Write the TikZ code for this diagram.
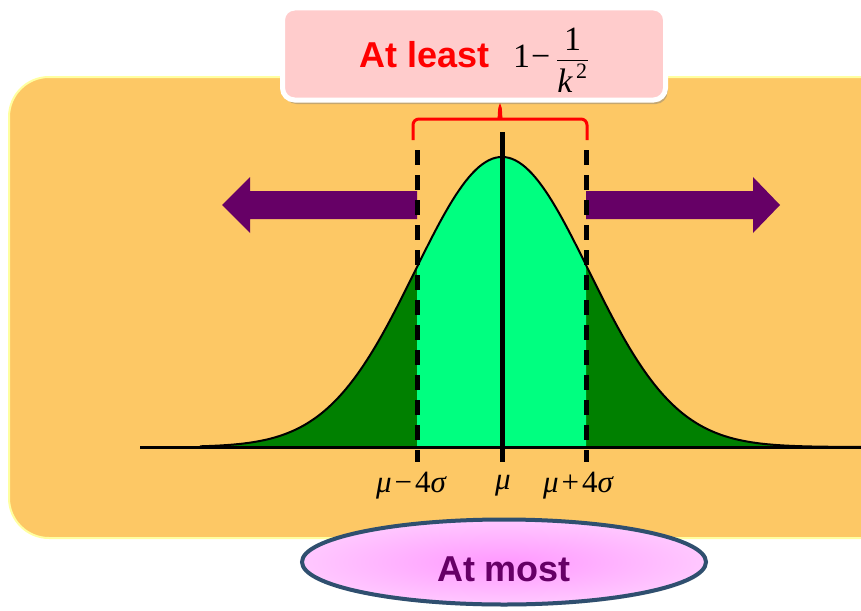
\documentclass[tikz,border=0pt]{standalone}
\usepackage{amsmath}
\usepackage{fontspec}
\setsansfont{Liberation Sans}
\newfontfamily\tmsfont{Liberation Serif}
\usetikzlibrary{shapes.geometric,shadows,positioning}
\definecolor{panelfill}{RGB}{253,200,101}
\definecolor{panelrim}{RGB}{255,255,160}
\definecolor{tailgreen}{RGB}{0,128,0}
\definecolor{coregreen}{RGB}{0,255,128}
\definecolor{plum}{RGB}{102,0,102}
\definecolor{notefill}{RGB}{255,204,204}
\definecolor{ovalrim}{RGB}{47,79,111}
\definecolor{ovalin}{RGB}{255,153,255}
\definecolor{ovalout}{RGB}{255,200,255}

\begin{document}
\begin{tikzpicture}[x=1pt, y=-1pt,
  declare function={bell(\t)=447-290*exp(-((\t-502)/87)^2/2);},
  notebox/.style={draw=white, line width=5pt, fill=notefill, rounded corners=12pt,
                  minimum width=383pt, minimum height=92pt, inner sep=0pt,
                  text height=43pt, text depth=17pt,
                  drop shadow={shadow xshift=2pt, shadow yshift=-4pt, opacity=0.45}},
  oval/.style={ellipse, draw=ovalrim, line width=4pt, inner color=ovalin, outer color=ovalout,
               minimum width=404pt, minimum height=85pt, inner sep=0pt,
               text height=46pt, text depth=8pt,
               drop shadow={shadow xshift=1pt, shadow yshift=-2pt, opacity=0.3}},
  heavy/.style={font=\fontsize{36}{40}\selectfont\sffamily\bfseries},
  lbl/.style={font=\fontsize{31}{34}\selectfont\tmsfont, inner sep=0pt},
  guide/.style={line width=5pt, dash pattern=on 15pt off 10pt},
  shove/.style={fill=plum}
]
  \useasboundingbox (0,0) rectangle (861,610);
  \clip (0,0) rectangle (861,610);
  % background panel
  \draw[panelrim, fill=panelfill, line width=2pt, rounded corners=40pt] (9,77) rectangle (920,538);
  % outward arrows
  \fill[shove] (417,191) -- (250,191) -- (250,177) -- (222,205) -- (250,233) -- (250,219) -- (417,219) -- cycle;
  \fill[shove] (586,191) -- (753,191) -- (753,177) -- (780,205) -- (753,233) -- (753,219) -- (586,219) -- cycle;
  % bell curve
  \fill[tailgreen] (140,447) -- plot[domain=140:861, samples=200] (\x,{bell(\x)}) -- (861,447) -- cycle;
  \fill[coregreen] (417,447) -- plot[domain=417:586, samples=80] (\x,{bell(\x)}) -- (586,447) -- cycle;
  \draw[line width=2pt] plot[domain=200:861, samples=200] (\x,{bell(\x)});
  \draw[line width=3pt] (140,447) -- (861,447);
  % mean and bounds
  \draw[line width=5pt] (502,132) -- (502,462);
  \draw[guide] (417,150) -- (417,462);
  \draw[guide] (586,150) -- (586,462);
  % brace
  \draw[red, line width=3pt, rounded corners=6pt] (413,140) -- (413,119) -- (494,119)
    .. controls (499,119) .. (500,104) .. controls (501,119) .. (506,119) -- (587,119) -- (587,140);
  % captions
  \node[notebox] (atleast) at (474,54) {{\color{red}\fontsize{36}{40}\selectfont\sffamily\bfseries At least}\hspace{24pt}{\fontsize{34}{38}\selectfont\tmsfont 1\hspace{1pt}−\hspace{6pt}$\dfrac{\hbox{\tmsfont 1}}{\hbox{\tmsfont\itshape k}^{\hbox{\tmsfont\fontsize{22}{22}\selectfont\,2}}}$}};
  \node[lbl] (lower) at (411,486) {{\itshape μ}\hspace{3pt}−\hspace{3pt}4{\itshape σ}};
  \node[lbl] (mean) at (503,486) {{\itshape μ}};
  \node[lbl] (upper) at (578,486) {{\itshape μ}\hspace{3pt}+\hspace{3pt}4{\itshape σ}};
  \node[oval, heavy, text=plum] (atmost) at (504,562) {At most};
\end{tikzpicture}
\end{document}
